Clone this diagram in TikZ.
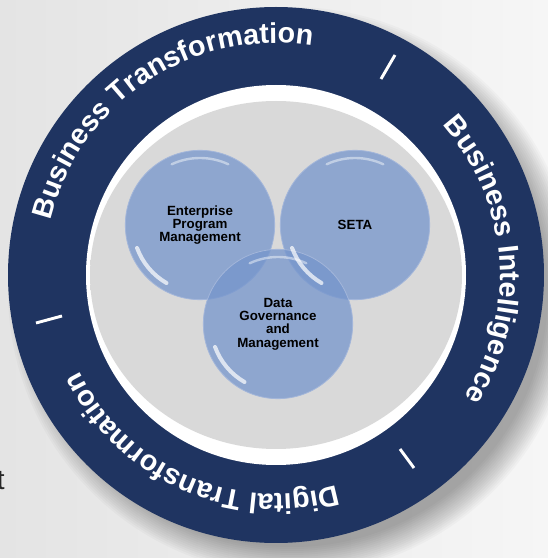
\documentclass[tikz,border=0pt]{standalone}
\usepackage{fontspec}
\setmainfont{Liberation Sans}
\usetikzlibrary{decorations.text}

\definecolor{ringdark}{HTML}{1F3461}
\definecolor{ringlight}{HTML}{3A66AE}
\definecolor{discgray}{HTML}{D9D9D9}
\definecolor{bubblefill}{HTML}{7595CC}
\definecolor{bubbleedge}{HTML}{A3B6DA}
\definecolor{bgleft}{HTML}{E4E4E4}
\definecolor{bgright}{HTML}{F6F6F6}

\pgfdeclareradialshading{ringshade}{\pgfpoint{0bp}{0bp}}{color(0bp)=(ringdark); color(43.5bp)=(ringdark); color(50bp)=(ringlight)}
\pgfdeclareradialshading{discshade}{\pgfpoint{0bp}{0bp}}{color(0bp)=(discgray); color(43bp)=(discgray); color(50bp)=(white)}

\newcommand\ringfont{\fontsize{21.5}{21.5}\selectfont\bfseries}

\begin{document}
\begin{tikzpicture}[
  x=0.75pt, y=0.75pt,
  bubble/.style={circle, minimum size=112pt, inner sep=0pt, fill=bubblefill, fill opacity=0.75,
    text opacity=1, draw=bubbleedge, line width=0.6pt, align=center,
    font=\bfseries\fontsize{10}{10}\selectfont},
  ringtext/.style={decorate, decoration={text along path, text align=center,
    text color=white, text={|\ringfont|#1}}},
  tick/.style={white, line width=2.2pt}
]
\useasboundingbox (0,0) rectangle (548,558);
\shade[left color=bgleft, right color=bgright] (0,0) rectangle (548,558);
\coordinate (c) at (276,283);

% soft shadow of the ring
\foreach \k in {0,...,14}
  \fill[black, opacity=0.022] (292,267) circle[radius=284-2*\k];

% ring and inner plate
\shade[shading=ringshade] (c) circle[radius=268];
\fill[white] (c) circle[radius=190];
\shade[shading=discshade] (c) ellipse[x radius=186, y radius=174];

% separators
\draw[tick] (381,479) -- (395,503);
\draw[tick] (36,235) -- (62,242);
\draw[tick] (400,109) -- (414,90);

% texts on the ring
\path[ringtext=Business Transformation] ([shift={(183.7:232)}]c) arc[start angle=183.7, end angle=63.7, radius=232];
\path[ringtext=Business Intelligence] ([shift={(64.5:224)}]c) arc[start angle=64.5, end angle=-55.5, radius=224];
\path[ringtext=Digital Transformation] ([shift={(-53.9:219)}]c) arc[start angle=-53.9, end angle=-173.9, radius=219];

% bubbles
\node[bubble] (epm) at (200,333) {Enterprise\\Program\\Management};
\node[bubble] (seta) at (355,333) {SETA};
\node[bubble] (dgm) at (278,234) {Data\\Governance\\and\\Management};

\foreach \n in {epm,seta,dgm} {
  \draw[white, opacity=0.7, line width=3pt, line cap=round]
    ([shift={(200:67)}]\n.center) arc[start angle=200, end angle=240, radius=67];
  \draw[white, opacity=0.45, line width=1.8pt, line cap=round]
    ([shift={(65:67)}]\n.center) arc[start angle=65, end angle=115, radius=67];
}

\node[anchor=base east, inner sep=0pt, text=black!85, font=\fontsize{21}{21}\selectfont] (cut) at (5,69) {t};
\end{tikzpicture}
\end{document}
